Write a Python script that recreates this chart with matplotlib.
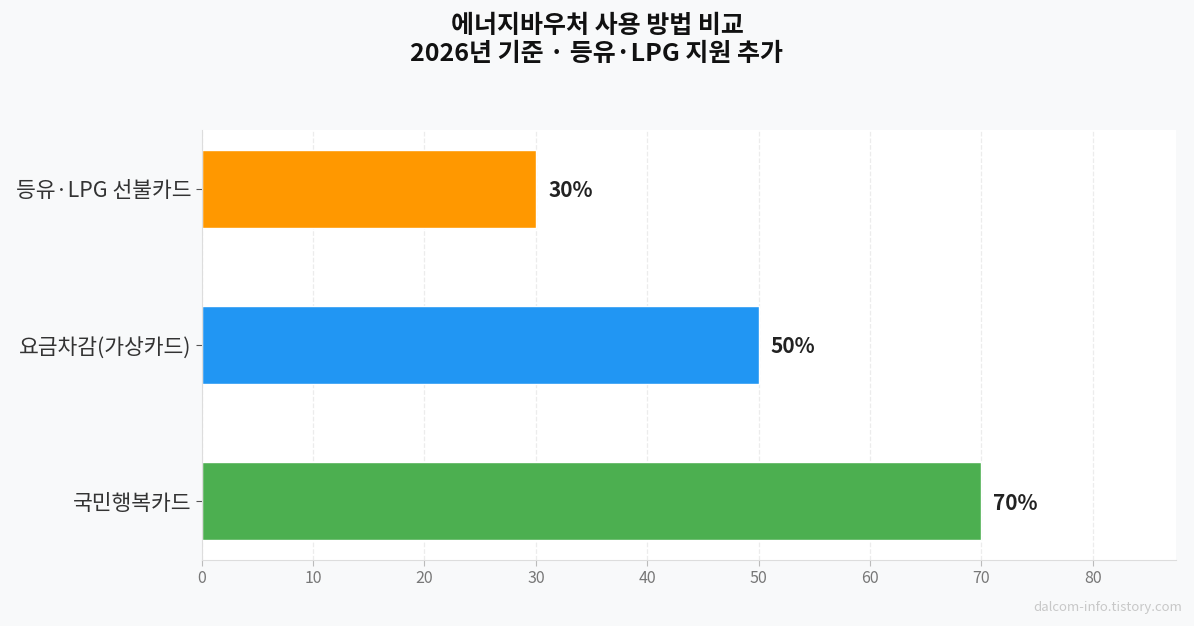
import matplotlib.pyplot as plt

plt.rcParams['font.family'] = ['Noto Sans CJK KR', 'DejaVu Sans']

categories = ["국민행복카드", "요금차감(가상카드)", "등유·LPG 선불카드"]
values = [70, 50, 30]
colors = ["#4CAF50", "#2196F3", "#FF9800"]

fig = plt.figure(figsize=(11.94, 6.26), dpi=100, facecolor="#f8f9fa")
ax = fig.add_axes([0.169, 0.1054, 0.816, 0.687])
ax.set_facecolor("white")

bars = ax.barh(categories, values, height=0.5, color=colors, edgecolor="white", linewidth=1)
for b, v in zip(bars, values):
    ax.text(v + 1.1, b.get_y() + b.get_height() / 2, f"{v}%", va="center_baseline", ha="left",
            fontsize=15, fontweight="bold", color="#222222")

ax.set_xlim(0, 87.5)
ax.set_xticks(range(0, 90, 10))
ax.grid(axis="x", linestyle="--", color="#ececec", linewidth=0.9)
ax.set_axisbelow(True)
for s in ["top", "right"]:
    ax.spines[s].set_visible(False)
for s in ["left", "bottom"]:
    ax.spines[s].set_color("#dddddd")
ax.tick_params(axis="y", labelsize=15.5, labelcolor="#333333", color="#555555", length=4)
ax.tick_params(axis="x", labelsize=11.5, labelcolor="#777777", color="#bbbbbb", length=4)

fig.suptitle("에너지바우처 사용 방법 비교\n2026년 기준 · 등유·LPG 지원 추가", x=0.5, y=0.978,
             fontsize=18, fontweight="bold", color="#111111", linespacing=1.2)
fig.text(0.99, 0.03, "dalcom-info.tistory.com", ha="right", va="center", fontsize=9.5, color="#c8c8c8")

fig.savefig("out.png", dpi=100, facecolor=fig.get_facecolor())
